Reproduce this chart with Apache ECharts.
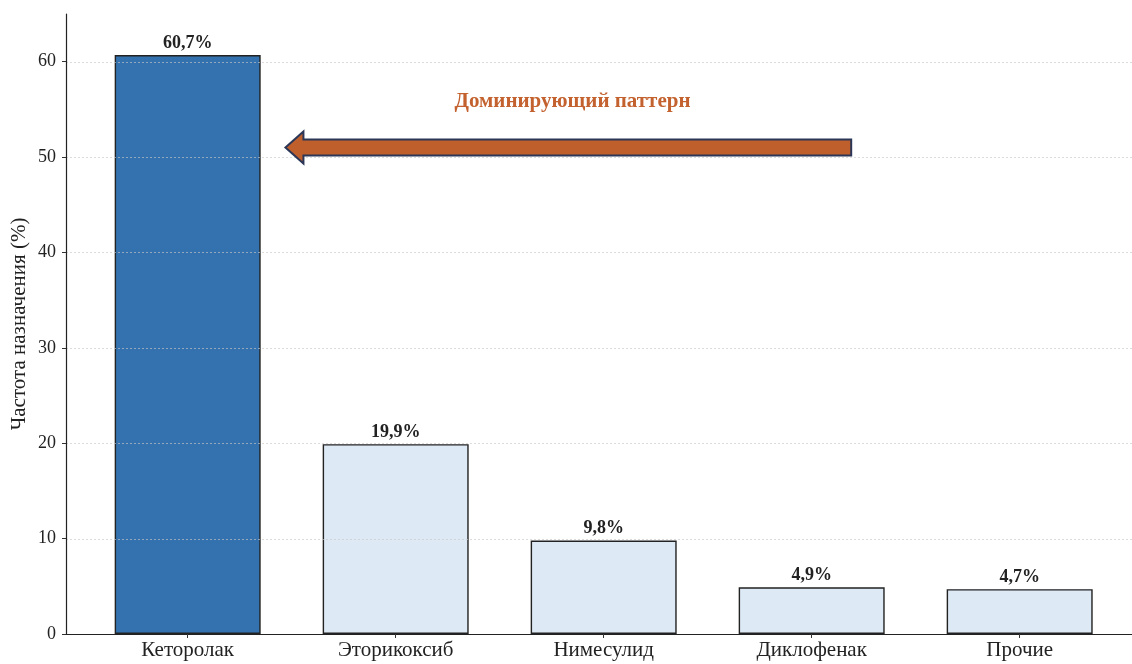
<!DOCTYPE html>
<html>
<head>
<meta charset="utf-8">
<script src="https://cdn.jsdelivr.net/npm/echarts@6/dist/echarts.min.js"></script>
<style>
  html, body { margin: 0; padding: 0; background: #fff; }
  #chart { width: 1132px; height: 664px; }
</style>
</head>
<body>
<div id="chart"></div>
<script>
// Prescription frequency by drug (%)
const categories = ['Кеторолак', 'Эторикоксиб', 'Нимесулид', 'Диклофенак', 'Прочие'];
const shares = [60.7, 19.9, 9.8, 4.9, 4.7];
const yTicks = [0, 10, 20, 30, 40, 50, 60];

// annotation: arrow from tail to head (data coordinates), text anchor
const arrowTail = [3.19, 51];
const arrowHead = [0.47, 51];
const noteText = 'Доминирующий паттерн';
const notePos = [1.85, 55.8];

const FONT = '"Liberation Serif", "DejaVu Serif", serif';
const positions = categories.map((_, i) => i);

const chart = echarts.init(document.getElementById('chart'), null, { renderer: 'canvas' });

const barData = shares.map((v, i) => ({
  value: [i, v],
  itemStyle: { color: i === 0 ? '#3372ae' : '#dde9f5' }
}));

function fmtPct(v) {
  return v.toFixed(1).replace('.', ',') + '%';
}

chart.setOption({
  animation: false,
  backgroundColor: '#ffffff',
  grid: { left: 66, right: 0, top: 14, bottom: 30, containLabel: false, outerBoundsMode: 'none' },
  xAxis: {
    type: 'value',
    min: -0.585,
    max: 4.54,
    z: 6,
    axisLine: { show: true, onZero: false, lineStyle: { color: '#222', width: 1.2 } },
    axisTick: { show: true, customValues: positions, length: 4, lineStyle: { color: '#333', width: 1 } },
    axisLabel: {
      show: true,
      customValues: positions,
      formatter: v => categories[Math.round(v)] || '',
      fontFamily: FONT, fontSize: 21, color: '#222', margin: 6
    },
    splitLine: { show: false }
  },
  yAxis: {
    type: 'value',
    min: 0,
    max: 65,
    interval: 10,
    z: 5,
    name: 'Частота назначения (%)',
    nameLocation: 'middle',
    nameGap: 36,
    nameMoveOverlap: false,
    nameRotate: 90,
    nameTextStyle: { fontFamily: FONT, fontSize: 21, color: '#222' },
    axisLine: { show: true, onZero: false, lineStyle: { color: '#222', width: 1.2 } },
    axisTick: { show: true, customValues: yTicks, length: 4, lineStyle: { color: '#333' } },
    axisLabel: {
      customValues: yTicks,
      fontFamily: FONT, fontSize: 18, color: '#222', margin: 10
    },
    splitLine: { show: false }
  },
  series: [
    {
      type: 'bar',
      data: barData,
      barWidth: 146,
      z: 1,
      itemStyle: { borderColor: '#222', borderWidth: 1.4 },
      label: {
        show: true,
        position: 'top',
        distance: 3,
        formatter: p => fmtPct(p.value[1]),
        fontFamily: FONT, fontSize: 18, fontWeight: 'bold', color: '#222'
      }
    },
    {
      // horizontal grid lines, drawn above the bars
      type: 'custom',
      coordinateSystem: 'cartesian2d',
      z: 3,
      silent: true,
      data: yTicks.map(t => [t]),
      encode: { y: 0 },
      renderItem: function (params, api) {
        const cs = params.coordSys;
        const y = Math.round(api.coord([0, api.value(0)])[1]) + 0.5;
        return {
          type: 'line',
          shape: { x1: cs.x, y1: y, x2: cs.x + cs.width, y2: y },
          style: { stroke: 'rgba(200,200,200,0.8)', lineWidth: 0.8, lineDash: [2, 2] }
        };
      }
    },
    {
      type: 'custom',
      coordinateSystem: 'cartesian2d',
      z: 5,
      silent: true,
      data: [[arrowTail[0], arrowTail[1], arrowHead[0], arrowHead[1]]],
      renderItem: function (params, api) {
        const t = api.coord([api.value(0), api.value(1)]);
        const h = api.coord([api.value(2), api.value(3)]);
        const bodyHalf = 8, headHalf = 16, headLen = 18;
        const y = h[1];
        const points = [
          [h[0], y],
          [h[0] + headLen, y - headHalf],
          [h[0] + headLen, y - bodyHalf],
          [t[0], y - bodyHalf],
          [t[0], y + bodyHalf],
          [h[0] + headLen, y + bodyHalf],
          [h[0] + headLen, y + headHalf]
        ];
        return {
          type: 'polygon',
          shape: { points: points },
          style: { fill: '#bf5f2c', stroke: '#2c3757', lineWidth: 2, lineJoin: 'miter' }
        };
      }
    },
    {
      type: 'custom',
      coordinateSystem: 'cartesian2d',
      z: 5,
      silent: true,
      data: [[notePos[0], notePos[1]]],
      renderItem: function (params, api) {
        const p = api.coord([api.value(0), api.value(1)]);
        return {
          type: 'text',
          x: p[0], y: p[1],
          style: {
            text: noteText,
            fill: '#c4622f',
            font: 'bold 21px ' + FONT,
            align: 'center',
            verticalAlign: 'middle'
          }
        };
      }
    }
  ]
});
</script>
</body>
</html>
